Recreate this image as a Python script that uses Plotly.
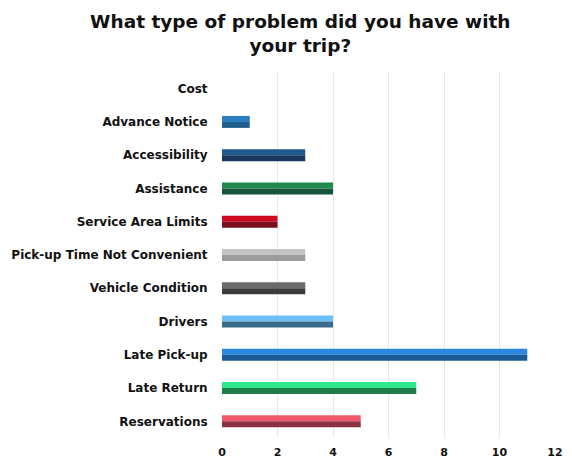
import plotly.graph_objects as go

categories = ["Cost", "Advance Notice", "Accessibility", "Assistance", "Service Area Limits",
              "Pick-up Time Not Convenient", "Vehicle Condition", "Drivers", "Late Pick-up",
              "Late Return", "Reservations"]
values = [0, 1, 3, 4, 2, 3, 3, 4, 11, 7, 5]
top_colors = ["#2a7dbf", "#2a7dbf", "#1f5a8f", "#1e8a4e", "#cc0a22", "#c4c4c4", "#6a6a6a",
              "#6cc0f5", "#2b87e0", "#2ee88a", "#f0576a"]
bottom_colors = ["#1f5f8b", "#1f5f8b", "#17375e", "#17553a", "#7a0e1a", "#9c9c9c", "#3c3c3c",
                 "#3a6c8a", "#1a5a99", "#217a4a", "#8b3040"]
x_ticks = [0, 2, 4, 6, 8, 10, 12]

W = 0.36
fig = go.Figure()
fig.add_trace(go.Bar(y=categories, x=values, orientation="h", width=W / 2, offset=-W / 2,
                     marker=dict(color=top_colors, line=dict(width=0)), hoverinfo="x+y"))
fig.add_trace(go.Bar(y=categories, x=values, orientation="h", width=W / 2, offset=0,
                     marker=dict(color=bottom_colors, line=dict(width=0)), hoverinfo="x+y"))

fig.update_layout(
    width=572, height=464,
    barmode="overlay", showlegend=False,
    paper_bgcolor="white", plot_bgcolor="white",
    margin=dict(l=222, r=17, t=72, b=26, autoexpand=False),
    title=dict(text="<b>What type of problem did you have with<br>your trip?</b>",
               x=0.525, xref="container", xanchor="center", y=0.94, yanchor="top",
               font=dict(family="DejaVu Sans", size=18.5, color="#111111")),
    font=dict(family="DejaVu Sans", size=12, color="#111111"),
)
fig.update_xaxes(range=[0, 12], tickvals=x_ticks, ticktext=[f"<b>{t}</b>" for t in x_ticks],
                 showgrid=True, gridcolor="#e8e8e8", gridwidth=1, zeroline=False,
                 showline=False, tickfont=dict(size=11), ticks="outside", ticklen=4,
                 tickcolor="rgba(0,0,0,0)")
fig.update_yaxes(autorange="reversed", tickvals=categories,
                 ticktext=[f"<b>{c}</b>" for c in categories],
                 showgrid=False, zeroline=False, showline=False, ticks="outside", ticklen=11,
                 tickcolor="rgba(0,0,0,0)", tickfont=dict(size=12))

fig.write_html("out.html", config={"displayModeBar": False})
with open("out.html", encoding="utf-8") as f:
    html = f.read()
html = html.replace("<body>", '<body style="margin:0;padding:0;">', 1)
with open("out.html", "w", encoding="utf-8") as f:
    f.write(html)
